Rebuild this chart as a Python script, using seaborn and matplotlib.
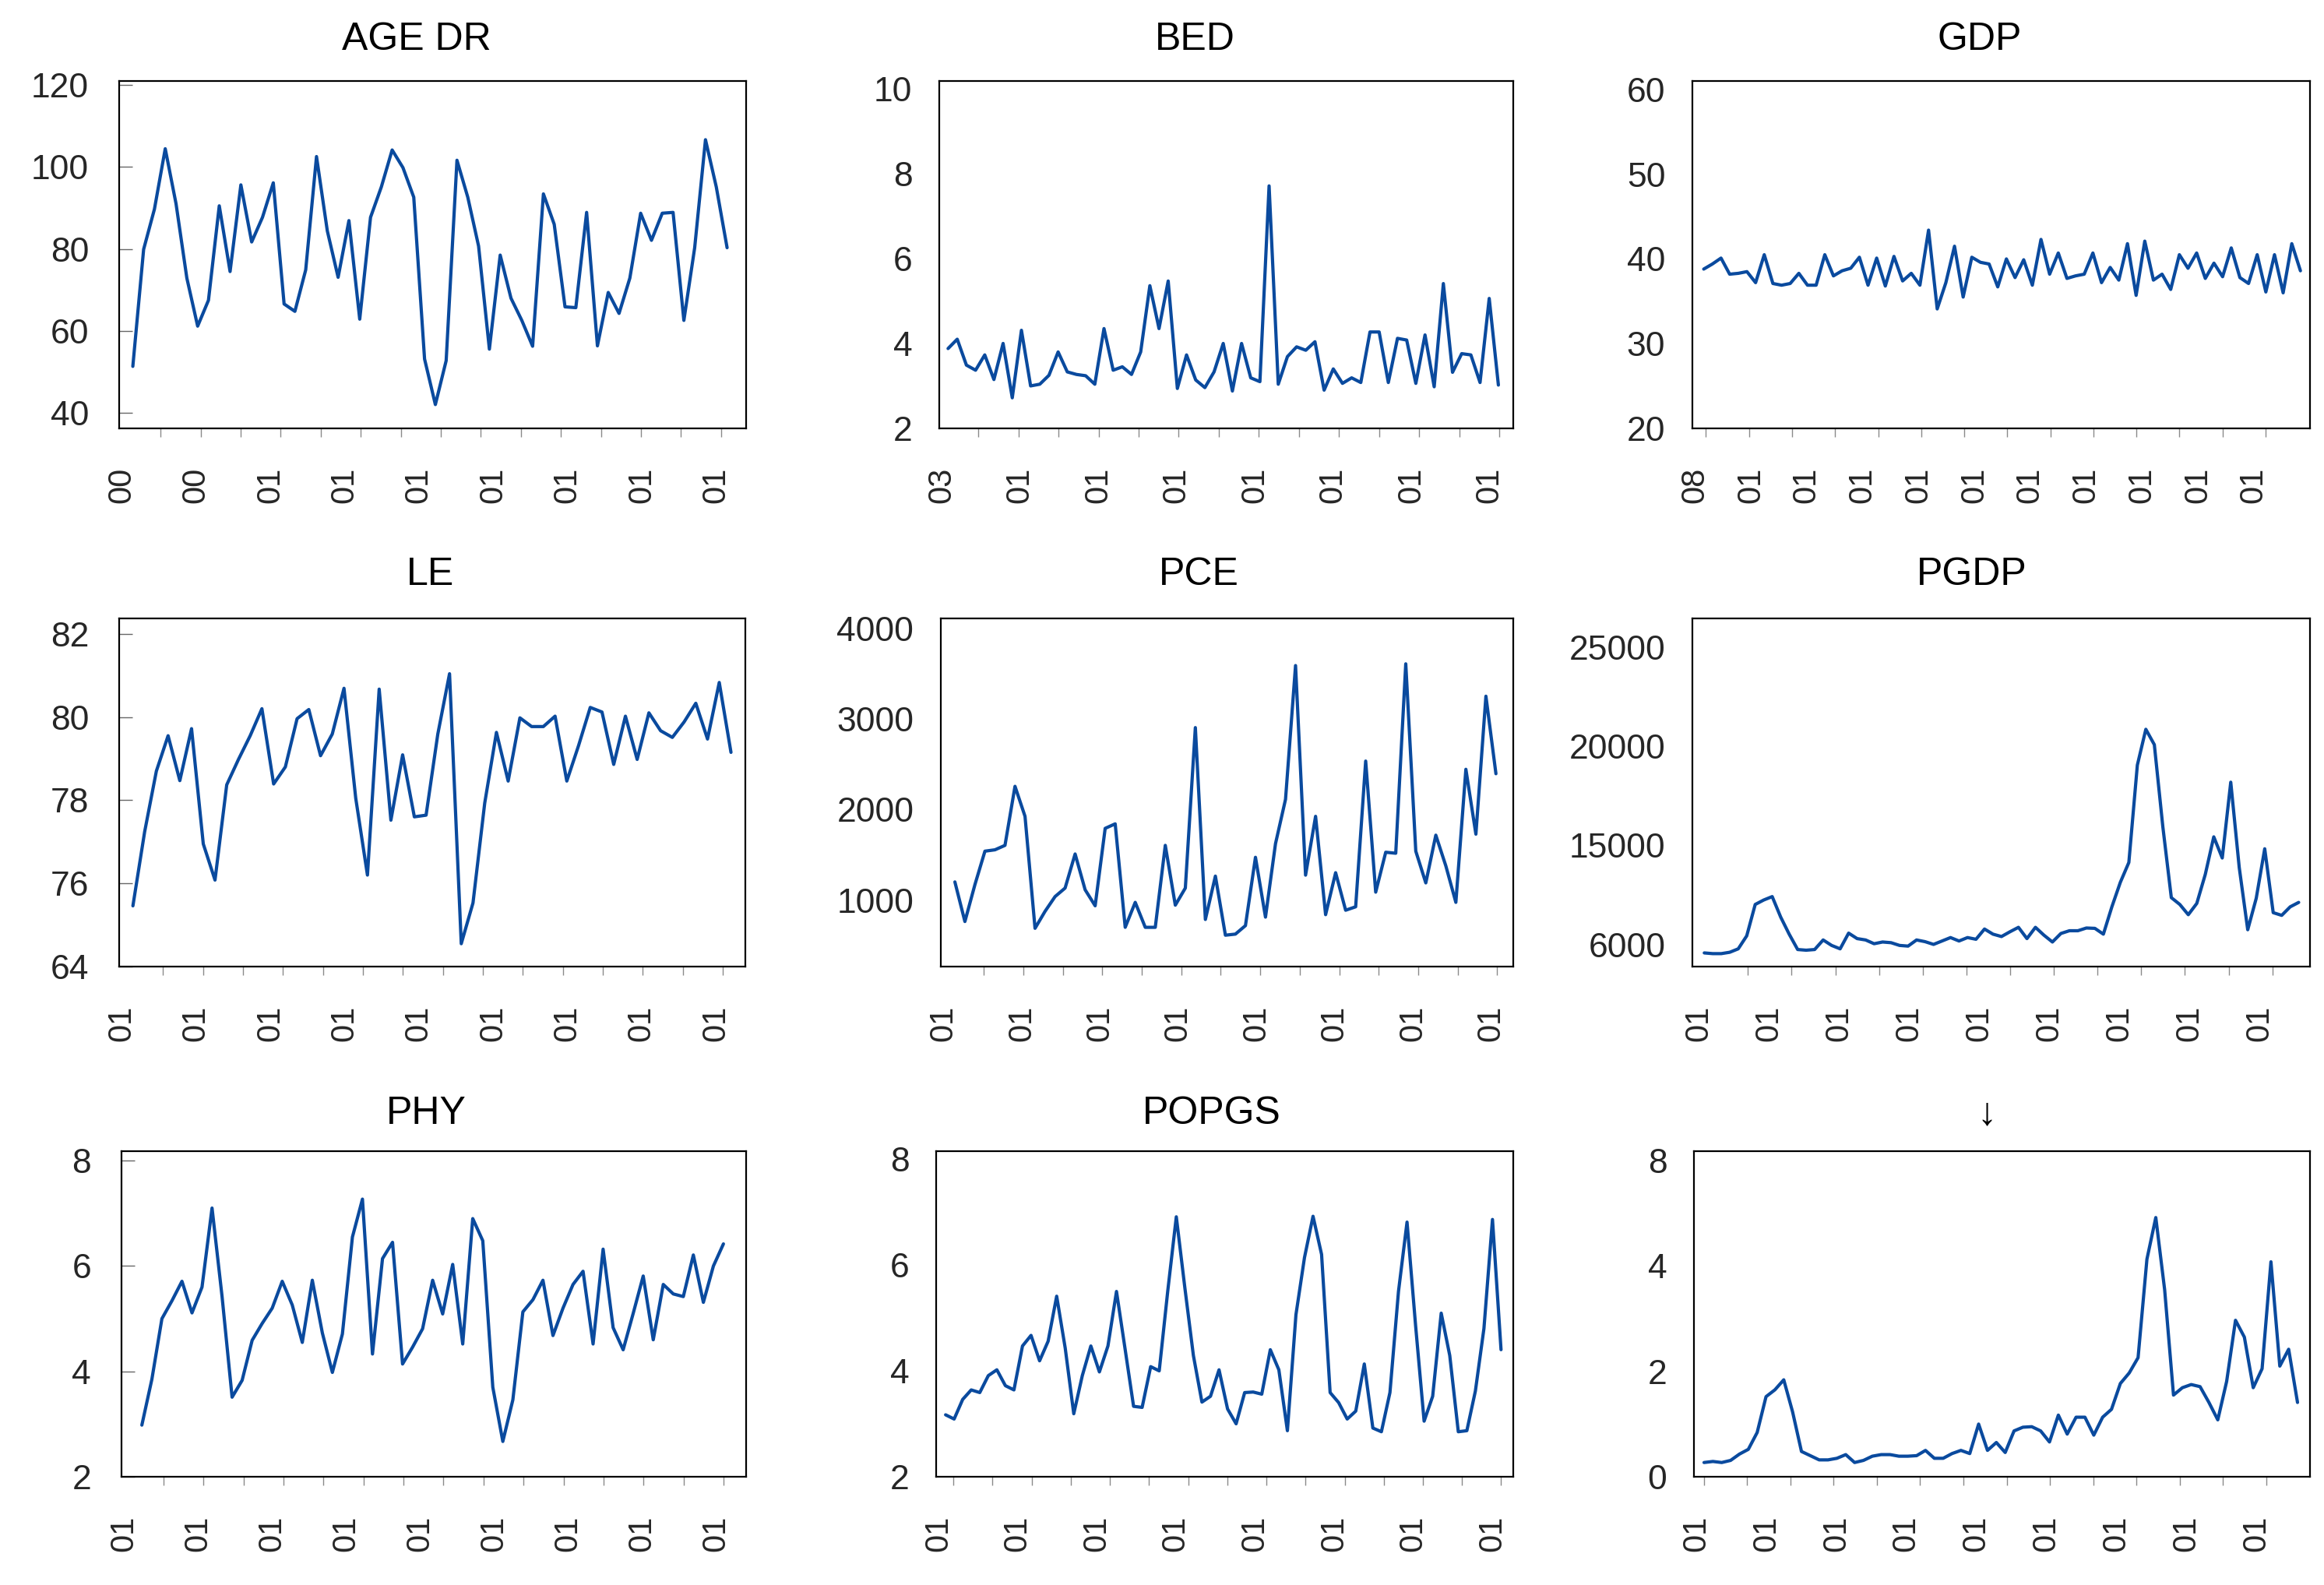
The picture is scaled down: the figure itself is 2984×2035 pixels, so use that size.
import numpy as np
import pandas as pd
import matplotlib
matplotlib.use("Agg")
import matplotlib.pyplot as plt
import seaborn as sns

# ---------------- data ----------------
titles = ["AGE DR", "BED", "GDP", "LE", "PCE", "PGDP", "PHY", "POPGS", "\u2193"]

age_dr = [51.4, 79.9, 89.7, 104.4, 91.0, 72.9, 61.2, 67.5, 90.5, 74.5, 95.6, 81.7, 87.7, 96.1,
          66.6, 64.8, 74.9, 102.5, 84.4, 73.1, 86.9, 62.9, 87.7, 95.1, 104.1, 99.8, 92.6, 53.2,
          42.1, 52.8, 101.6, 92.6, 80.7, 55.6, 78.5, 68.0, 62.6, 56.3, 93.4, 86.0, 65.9, 65.7,
          88.9, 56.4, 69.4, 64.3, 72.9, 88.7, 82.1, 88.7, 88.9, 62.6, 80.3, 106.6, 95.1, 80.3]

bed = [3.88, 4.10, 3.49, 3.37, 3.73, 3.15, 4.00, 2.72, 4.31, 3.00, 3.04, 3.25, 3.80, 3.33,
       3.27, 3.24, 3.04, 4.35, 3.37, 3.45, 3.27, 3.80, 5.36, 4.35, 5.47, 2.94, 3.73, 3.14,
       2.96, 3.33, 4.00, 2.88, 4.00, 3.19, 3.10, 7.71, 3.04, 3.69, 3.92, 3.84, 4.04, 2.90,
       3.40, 3.06, 3.19, 3.08, 4.27, 4.27, 3.08, 4.12, 4.08, 3.06, 4.20, 2.98, 5.41, 3.32,
       3.76, 3.73, 3.08, 5.06, 3.02]

gdp = [38.8, 39.4, 40.1, 38.2, 38.3, 38.5, 37.2, 40.5, 37.1, 36.9, 37.1, 38.3, 36.9, 36.9,
       40.5, 38.0, 38.6, 38.9, 40.2, 36.9, 40.1, 36.8, 40.3, 37.4, 38.3, 36.9, 43.4, 34.1,
       37.2, 41.5, 35.5, 40.2, 39.6, 39.4, 36.7, 40.0, 37.8, 39.9, 36.9, 42.3, 38.2, 40.7,
       37.7, 38.0, 38.2, 40.7, 37.2, 39.0, 37.5, 41.8, 35.7, 42.1, 37.5, 38.2, 36.4, 40.5,
       38.9, 40.7, 37.7, 39.5, 37.9, 41.3, 37.8, 37.1, 40.5, 36.1, 40.5, 36.0, 41.8, 38.6]

le = [75.46, 77.24, 78.70, 79.55, 78.47, 79.72, 76.95, 76.08, 78.37, 78.98, 79.55, 80.20,
      78.39, 78.80, 79.96, 80.18, 79.07, 79.59, 80.69, 78.05, 76.20, 80.67, 77.52, 79.09,
      77.60, 77.64, 79.59, 81.04, 74.55, 75.53, 77.93, 79.63, 78.46, 79.98, 79.77, 79.77,
      80.02, 78.46, 79.31, 80.23, 80.12, 78.86, 80.02, 78.98, 80.10, 79.67, 79.51, 79.88,
      80.33, 79.47, 80.83, 79.15]

pce = [1200, 762, 1170, 1540, 1555, 1604, 2257, 1925, 687, 875, 1038, 1132, 1509, 1113,
       936, 1792, 1842, 698, 974, 698, 698, 1604, 943, 1132, 2906, 785, 1264, 611, 623, 717,
       1472, 811, 1623, 2113, 3592, 1275, 1925, 838, 1302, 887, 925, 2536, 1087, 1528, 1517,
       3611, 1540, 1189, 1717, 1377, 974, 2445, 1728, 3253, 2396]

pgdp = [9570, 9534, 9534, 9603, 9776, 10431, 12017, 12241, 12414, 11379, 10517, 9741, 9707,
        9741, 10224, 9948, 9776, 10569, 10293, 10224, 10034, 10121, 10086, 9948, 9914, 10224,
        10138, 10000, 10172, 10345, 10172, 10345, 10259, 10776, 10517, 10397, 10638, 10862,
        10293, 10862, 10466, 10121, 10552, 10690, 10690, 10828, 10810, 10517, 11897, 13138,
        14138, 19052, 20862, 20086, 15948, 12362, 12017, 11500, 12069, 13534, 15431, 14362,
        18190, 13879, 10741, 12328, 14828, 11603, 11466, 11897, 12121]

phy = [2.98, 3.85, 5.00, 5.34, 5.71, 5.11, 5.60, 7.10, 5.42, 3.51, 3.83, 4.59, 4.91, 5.20,
       5.71, 5.26, 4.55, 5.73, 4.73, 3.98, 4.71, 6.55, 7.27, 4.33, 6.14, 6.45, 4.14, 4.46,
       4.81, 5.73, 5.09, 6.03, 4.52, 6.90, 6.48, 3.70, 2.67, 3.46, 5.13, 5.36, 5.73, 4.68,
       5.20, 5.65, 5.90, 4.52, 6.32, 4.83, 4.41, 5.10, 5.81, 4.60, 5.65, 5.47, 5.42, 6.21,
       5.31, 6.00, 6.42]

popgs = [3.17, 3.09, 3.46, 3.64, 3.59, 3.91, 4.02, 3.72, 3.64, 4.47, 4.67, 4.19, 4.56, 5.41,
         4.43, 3.19, 3.91, 4.47, 3.98, 4.47, 5.50, 4.42, 3.33, 3.31, 4.08, 4.00, 5.51, 6.91,
         5.57, 4.29, 3.41, 3.52, 4.02, 3.28, 3.00, 3.59, 3.60, 3.56, 4.40, 4.02, 2.87, 5.06,
         6.14, 6.92, 6.20, 3.59, 3.40, 3.09, 3.24, 4.13, 2.92, 2.85, 3.59, 5.50, 6.81, 4.86,
         3.05, 3.52, 5.09, 4.29, 2.85, 2.87, 3.62, 4.80, 6.86, 4.40]

arrow_series = [0.27, 0.29, 0.27, 0.31, 0.43, 0.52, 0.84, 1.52, 1.65, 1.84, 1.23, 0.48, 0.40,
                0.32, 0.32, 0.35, 0.42, 0.27, 0.31, 0.39, 0.42, 0.42, 0.39, 0.39, 0.40, 0.50,
                0.35, 0.35, 0.44, 0.50, 0.44, 1.00, 0.50, 0.65, 0.46, 0.87, 0.94, 0.95, 0.87,
                0.66, 1.17, 0.81, 1.13, 1.13, 0.79, 1.13, 1.28, 1.77, 1.97, 2.26, 4.13, 4.92,
                3.55, 1.55, 1.69, 1.75, 1.71, 1.41, 1.08, 1.81, 2.97, 2.65, 1.69, 2.05, 4.08,
                2.10, 2.42, 1.41]

xlabels_age_dr = ["00", "00", "01", "01", "01", "01", "01", "01", "01"]
xlabels_bed = ["03", "01", "01", "01", "01", "01", "01", "01"]
xlabels_gdp = ["08", "01", "01", "01", "01", "01", "01", "01", "01", "01", "01"]
xlabels_le = ["01"] * 9
xlabels_pce = ["01"] * 8
xlabels_pgdp = ["01"] * 9
xlabels_phy = ["01"] * 9
xlabels_popgs = ["01"] * 8
xlabels_arrow = ["01"] * 9

yticks_age_dr = [40, 60, 80, 100, 120]
yticks_bed = [2, 4, 6, 8, 10]
yticks_gdp = [20, 30, 40, 50, 60]
yticks_le = [74, 76, 78, 80, 82]
ylabels_le = ["64", "76", "78", "80", "82"]
yticks_pce = [1000, 2000, 3000, 4000]
yticks_pgdp = [10000, 15000, 20000, 25000]
ylabels_pgdp = ["6000", "15000", "20000", "25000"]
yticks_phy = [2, 4, 6, 8]
yticks_popgs = [2, 4, 6, 8]
yticks_arrow = [0, 2, 4, 6]
ylabels_arrow = ["0", "2", "4", "8"]

series = [age_dr, bed, gdp, le, pce, pgdp, phy, popgs, arrow_series]
xlabels = [xlabels_age_dr, xlabels_bed, xlabels_gdp, xlabels_le, xlabels_pce,
           xlabels_pgdp, xlabels_phy, xlabels_popgs, xlabels_arrow]
yticks = [yticks_age_dr, yticks_bed, yticks_gdp, yticks_le, yticks_pce,
          yticks_pgdp, yticks_phy, yticks_popgs, yticks_arrow]
ylabels = [[str(v) for v in yticks_age_dr], [str(v) for v in yticks_bed],
           [str(v) for v in yticks_gdp], ylabels_le, [str(v) for v in yticks_pce],
           ylabels_pgdp, [str(v) for v in yticks_phy], [str(v) for v in yticks_popgs],
           ylabels_arrow]

# ---------------- layout (pixels) ----------------
W, H = 2984, 2035
rows = [(104, 550), (794, 1241), (1478, 1896)]
cols = [[(153, 958), (1206, 1943), (2173, 2966)],
        [(153, 957), (1208, 1943), (2173, 2966)],
        [(156, 958), (1202, 1943), (2175, 2966)]]
ylims = [(36.3, 120.9), (2.0, 10.18), (20.0, 61.0), (74.0, 82.37), (264, 4113),
         (8880, 26460), (2.0, 8.18), (2.0, 8.15), (0.0, 6.18)]
xpads = [(0.023, 0.032), (0.016, 0.027), (0.019, 0.016), (0.023, 0.024), (0.026, 0.032),
         (0.020, 0.019), (0.035, 0.039), (0.017, 0.022), (0.017, 0.021)]
# (tick first frac, tick last frac, n ticks, label first frac, label last frac)
tickspec = [(0.066, 0.960, 15, 0.004, 0.952), (0.068, 0.976, 14, 0.004, 0.959),
            (0.022, 0.928, 14, 0.004, 0.909), (0.070, 0.964, 15, 0.004, 0.953),
            (0.075, 0.972, 14, 0.005, 0.961), (0.090, 0.939, 13, 0.011, 0.919),
            (0.067, 0.964, 15, 0.004, 0.952), (0.030, 0.979, 15, 0.004, 0.964),
            (0.016, 0.929, 14, 0.004, 0.913)]
inner_yticks = [True, False, False, True, False, False, True, False, False]
title_x = [0.474, 0.446, 0.465, 0.497, 0.451, 0.453, 0.488, 0.477, 0.475]
title_pad = [29, 29, 29, 31, 31, 31, 25, 25, 25]

sns.set_theme(style="white")
plt.rcParams['font.family'] = ['Liberation Sans', 'DejaVu Sans']

line_color = "#0a4a9e"
fig = plt.figure(figsize=(W / 100, H / 100), dpi=100)
fig.patch.set_facecolor("white")

for i in range(9):
    r, c = divmod(i, 3)
    top, bottom = rows[r]
    left, right = cols[r][c]
    ax = fig.add_axes([left / W, 1 - bottom / H, (right - left) / W, (bottom - top) / H])
    vals = series[i]
    n = len(vals)
    df = pd.DataFrame({"t": np.arange(n), "v": vals})
    sns.lineplot(data=df, x="t", y="v", ax=ax, color=line_color, linewidth=3.0)
    pl, pr = xpads[i]
    x0, x1 = -pl * (n - 1), (n - 1) * (1 + pr)
    ax.set_xlim(x0, x1)
    ax.set_ylim(*ylims[i])
    tf, tl, nt, lf, ll = tickspec[i]
    span = x1 - x0
    minor = x0 + np.linspace(tf, tl, nt) * span
    major = x0 + np.linspace(lf, ll, len(xlabels[i])) * span
    ax.set_xticks(major)
    ax.set_xticklabels(xlabels[i], rotation=90, fontsize=30)
    ax.set_xticks(minor, minor=True)
    ax.tick_params(axis="x", which="major", length=0, pad=36)
    ax.tick_params(axis="x", which="minor", length=8, width=1.0, color="#8a8a8a",
                   direction="out", bottom=True)
    ax.set_yticks(yticks[i])
    ax.set_yticklabels(ylabels[i], fontsize=32)
    if inner_yticks[i]:
        ax.tick_params(axis="y", which="major", length=12, width=1.0, color="#666666",
                       direction="in", left=True, pad=28)
    else:
        ax.tick_params(axis="y", which="major", length=0, left=True, pad=25)
    ax.set_xlabel("")
    ax.set_ylabel("")
    for s in ax.spines.values():
        s.set_visible(True)
        s.set_color("black")
        s.set_linewidth(1.6)
    ax.set_facecolor("white")
    ax.grid(False)
    ax.set_title(titles[i], fontsize=36, x=title_x[i], pad=title_pad[i], color="black")

fig.savefig("out.png", dpi=100, facecolor="white")
